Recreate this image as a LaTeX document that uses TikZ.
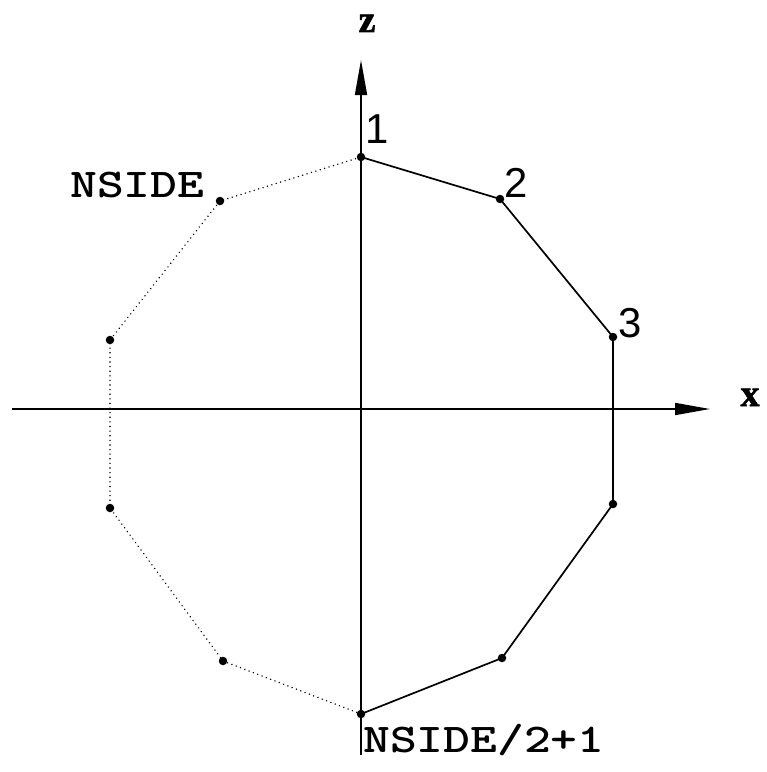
\documentclass[tikz,border=0pt]{standalone}
\usepackage{fontspec}
\usepackage{graphicx}
\usetikzlibrary{arrows.meta}
\newfontfamily\helvfont{Liberation Sans}
\newfontfamily\timesfont[FakeBold=1.5]{Liberation Serif}
\newcommand{\courtext}[1]{\scalebox{1.25}[1]{\ttfamily\bfseries #1}}
\begin{document}
\begin{tikzpicture}[x=1bp,y=-1bp,
  axis/.style={line width=1.7bp, -{Triangle[length=35bp,width=12bp]}},
  solidedge/.style={line width=1.7bp},
  dotedge/.style={line width=1.6bp, line cap=round, dash pattern=on 0.01bp off 4.6bp},
  vdot/.style={circle, fill=black, inner sep=0pt, minimum size=8.5bp},
  numlab/.style={font=\helvfont\fontsize{42}{44}\selectfont, inner sep=0pt, anchor=base},
  namelab/.style={font=\fontsize{41}{43}\selectfont, inner sep=0pt, anchor=base west},
  axlab/.style={font=\timesfont\bfseries\fontsize{38}{40}\selectfont, inner sep=0pt, anchor=base}]
\useasboundingbox (0,0) rectangle (767,772);
% axes
\coordinate (xl) at (12,409);
\coordinate (xr) at (710,409);
\coordinate (zb) at (361,755);
\coordinate (zt) at (361,60);
\draw[axis] (xl) -- (xr);
\draw[axis] (zb) -- (zt);
\node[axlab] (zlab) at (367,32) {z};
\node[axlab] (xlab) at (750,406) {x};
% vertices
\node[vdot] (v1) at (361,157) {};
\node[vdot] (v2) at (500,199) {};
\node[vdot] (v3) at (613,337) {};
\node[vdot] (v4) at (613,504) {};
\node[vdot] (v5) at (502,658) {};
\node[vdot] (v6) at (361,714) {};
\node[vdot] (v7) at (223,661) {};
\node[vdot] (v8) at (110,508) {};
\node[vdot] (v9) at (110,340) {};
\node[vdot] (v10) at (220,201) {};
% edges
\draw[solidedge] (v1.center) -- (v2.center) -- (v3.center) -- (v4.center) -- (v5.center) -- (v6.center);
\draw[dotedge] (v6.center) -- (v7.center) -- (v8.center) -- (v9.center) -- (v10.center) -- (v1.center);
% labels
\node[numlab] (l1) at (377,143) {1};
\node[numlab] (l2) at (516,197) {2};
\node[numlab] (l3) at (630,337) {3};
\node[namelab] (lnside) at (70,197) {\courtext{NSIDE}};
\node[namelab] (lhalf) at (363,752) {\courtext{NSIDE/2+1}};
\end{tikzpicture}
\end{document}
